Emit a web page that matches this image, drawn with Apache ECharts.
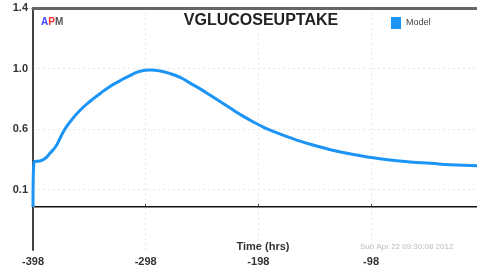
<!DOCTYPE html>
<html>
	<head>
		<meta charset="UTF-8">
		<title>VGLUCOSEUPTAKE</title>
		<script src="https://cdn.jsdelivr.net/npm/echarts@6/dist/echarts.min.js"></script>
		<style>
			html, body { margin: 0; padding: 0; background: #fff; }
			#main { width: 477px; height: 270px; }
		</style>
	</head>
	<body>
		<div id="main"></div>
		<script type="text/javascript">
			// 数据：时间(hrs) 与 Model 值
			var hours = [-398, -397, -392, -387, -383, -378, -374, -370, -365, -356, -347, -338, -330, -321, -312, -303, -294, -285, -276, -267, -259, -250, -241, -232, -223, -214, -205, -196, -188, -179, -170, -161, -152, -134, -116, -99, -81, -63, -45, -28, -4];
			var model = [0, 0.323, 0.328, 0.347, 0.382, 0.429, 0.489, 0.55, 0.607, 0.69, 0.754, 0.809, 0.856, 0.897, 0.935, 0.965, 0.974, 0.967, 0.948, 0.92, 0.883, 0.842, 0.797, 0.751, 0.704, 0.658, 0.616, 0.578, 0.548, 0.52, 0.494, 0.469, 0.447, 0.408, 0.377, 0.354, 0.335, 0.321, 0.311, 0.301, 0.294];
			var xTicks = [-398, -298, -198, -98];
			var yTicks = [0.125, 0.555, 0.985, 1.415];
			var yTickLabels = ['0.1', '0.6', '1.0', '1.4'];
			var xMin = -398, xMax = -4;
			var yMin = -0.305, yMax = 1.415;

			var points = [];
			for (var i = 0; i < hours.length; i++) {
				points.push([hours[i], model[i]]);
			}

			var myChart = echarts.init(document.getElementById('main'));
			var option = {
				animation: false,
				title: [
					{
						text: 'VGLUCOSEUPTAKE',
						left: 256, top: 8, textAlign: 'center',
						textStyle: { fontFamily: 'Liberation Sans', fontSize: 16, fontWeight: 'bold', color: '#222' }
					},
					{
						text: '{a|A}{p|P}{m|M}',
						left: 36, top: 12,
						textStyle: {
							rich: {
								a: { color: '#3b46ff', fontSize: 10, fontWeight: 'bold', fontFamily: 'Liberation Sans' },
								p: { color: '#ff2a2a', fontSize: 10, fontWeight: 'bold', fontFamily: 'Liberation Sans' },
								m: { color: '#555', fontSize: 10, fontWeight: 'bold', fontFamily: 'Liberation Sans' }
							}
						}
					},
					{
						text: 'Time (hrs)',
						left: 258, top: 236, textAlign: 'center',
						textStyle: { fontFamily: 'Liberation Sans', fontSize: 11, fontWeight: 'bold', color: '#333' }
					},
					{
						text: 'Sun Apr 22 09:30:08 2012',
						left: 355, top: 238,
						textStyle: { fontFamily: 'Liberation Sans', fontSize: 8, fontWeight: 'normal', color: '#bbb' }
					}
				],
				legend: {
					data: ['Model'],
					left: 386, top: 12,
					icon: 'rect', itemWidth: 10, itemHeight: 12, itemGap: 6,
					textStyle: { fontFamily: 'Liberation Sans', fontSize: 9, color: '#444' }
				},
				grid: { left: 33, right: 0, top: 8, bottom: 20 },
				xAxis: [
					{
						type: 'value', min: xMin, max: xMax,
						axisLine: { lineStyle: { color: '#111', width: 2 } },
						axisTick: { inside: true, length: 3, customValues: xTicks, lineStyle: { color: '#333' } },
						axisLabel: {
							customValues: xTicks, margin: 6,
							fontFamily: 'Liberation Sans', fontSize: 11, fontWeight: 'bold', color: '#333'
						},
						splitLine: { show: true, lineStyle: { color: '#e6e6e6', type: [2, 3] } }
					},
					{
						type: 'value', position: 'top', min: xMin, max: xMax,
						axisLine: { lineStyle: { color: '#666', width: 3 } },
						axisTick: { show: false }, axisLabel: { show: false }, splitLine: { show: false }
					}
				],
				yAxis: {
					type: 'value', min: yMin, max: yMax,
					axisLine: { show: true, lineStyle: { color: '#444', width: 2 } },
					axisTick: { show: false, customValues: yTicks },
					axisLabel: {
						customValues: yTicks, margin: 5,
						fontFamily: 'Liberation Sans', fontSize: 11, fontWeight: 'bold', color: '#333',
						formatter: function (v) {
							for (var k = 0; k < yTicks.length; k++) {
								if (Math.abs(yTicks[k] - v) < 1e-6) return yTickLabels[k];
							}
							return '';
						}
					},
					splitLine: { show: true, lineStyle: { color: '#e6e6e6', type: [2, 3] } }
				},
				series: [
					{
						name: 'Model', type: 'line',
						data: points,
						smooth: 0.5,
						showSymbol: false,
						itemStyle: { color: '#1b94f5' },
						lineStyle: { color: '#1b94f5', width: 3 },
						markLine: {
							silent: true, symbol: 'none', label: { show: false },
							lineStyle: { color: '#888', width: 1, type: 'solid' },
							data: [{ yAxis: 0 }]
						}
					}
				]
			};
			myChart.setOption(option);
		</script>
	</body>
</html>
